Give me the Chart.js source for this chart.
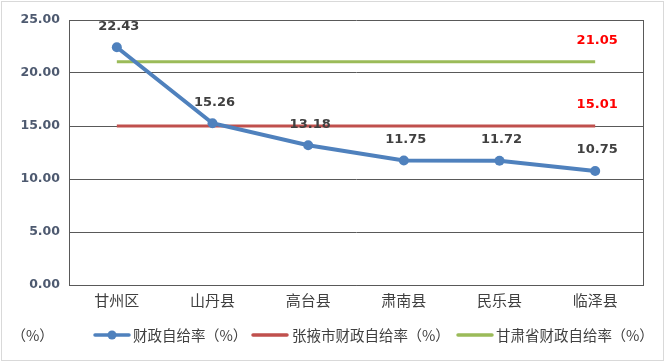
<!DOCTYPE html>
<html>
<head>
<meta charset="utf-8">
<script src="https://cdn.jsdelivr.net/npm/chart.js@4/dist/chart.umd.min.js"></script>
<style>
  html, body { margin: 0; padding: 0; background: #fff; }
  #wrap { width: 665px; height: 362px; position: relative; }
</style>
</head>
<body>
<div id="wrap"><canvas id="c" width="665" height="362"></canvas></div>
<script>
// data
const counties   = ['甘州区', '山丹县', '高台县', '肃南县', '民乐县', '临泽县'];
const countyRate = [22.43, 15.26, 13.18, 11.75, 11.72, 10.75];
const cityRate   = [15.01, 15.01, 15.01, 15.01, 15.01, 15.01];
const provRate   = [21.05, 21.05, 21.05, 21.05, 21.05, 21.05];
const yTicks     = [0, 5, 10, 15, 20, 25];

const seriesNames = ['财政自给率（%）', '张掖市财政自给率（%）', '甘肃省财政自给率（%）'];
const BLUE = '#4F81BD', RED = '#C0504D', GREEN = '#9BBB59';
const CJK = '"Noto Sans CJK SC", "Microsoft YaHei", sans-serif';

// draws CJK text char by char so full-width brackets keep a full cell
function drawWide(ctx, text, x, y, cell) {
  for (const ch of text) {
    const w = /[（）]/.test(ch) ? cell : ctx.measureText(ch).width;
    if (ch === '（') { ctx.textAlign = 'right'; ctx.fillText(ch, x + w, y); }
    else if (ch === '）') { ctx.textAlign = 'left'; ctx.fillText(ch, x, y); }
    else { ctx.textAlign = 'left'; ctx.fillText(ch, x, y); }
    x += w;
  }
}

// value labels, unit note, custom legend and outer frame
const decorations = {
  id: 'decorations',
  afterDatasetsDraw(chart) {
    const ctx = chart.ctx;
    ctx.save();
    ctx.textAlign = 'center';
    ctx.textBaseline = 'middle';
    ctx.font = 'bold 13px "DejaVu Sans", sans-serif';

    // blue series: every point
    chart.getDatasetMeta(0).data.forEach((pt, i) => {
      ctx.fillStyle = '#404040';
      ctx.fillText(countyRate[i].toFixed(2), pt.x + 2, pt.y - 21);
    });
    // reference lines: last point only, in red
    [1, 2].forEach(di => {
      const pts = chart.getDatasetMeta(di).data;
      const pt = pts[pts.length - 1];
      const v = chart.data.datasets[di].data[pts.length - 1];
      ctx.fillStyle = '#FF0000';
      ctx.fillText(v.toFixed(2), pt.x + 2, pt.y - 21);
    });
    ctx.restore();
  },
  afterDraw(chart) {
    const ctx = chart.ctx;
    ctx.save();
    // outer frame
    ctx.strokeStyle = '#D9D9D9';
    ctx.lineWidth = 1;
    ctx.strokeRect(1.5, 1.5, chart.width - 3, chart.height - 3);

    const y = 335;
    ctx.font = '14.5px ' + CJK;
    ctx.textBaseline = 'middle';
    ctx.fillStyle = '#404040';
    drawWide(ctx, '（%）', 14, y, 12);

    const items = [
      { x: 95,  tx: 133, color: BLUE,  dot: true },
      { x: 253, tx: 292, color: RED,   dot: false },
      { x: 458, tx: 496, color: GREEN, dot: false }
    ];
    items.forEach((it, i) => {
      ctx.strokeStyle = it.color;
      ctx.lineWidth = 3.5;
      ctx.lineCap = 'round';
      ctx.beginPath();
      ctx.moveTo(it.x, y);
      ctx.lineTo(it.x + 34, y);
      ctx.stroke();
      if (it.dot) {
        ctx.fillStyle = it.color;
        ctx.beginPath();
        ctx.arc(it.x + 17, y, 4.5, 0, Math.PI * 2);
        ctx.fill();
      }
      ctx.fillStyle = '#404040';
      drawWide(ctx, seriesNames[i], it.tx, y, 14);
    });
    ctx.restore();
  }
};

new Chart(document.getElementById('c').getContext('2d'), {
  type: 'line',
  data: {
    labels: counties,
    datasets: [
      {
        label: seriesNames[0],
        data: countyRate,
        borderColor: BLUE,
        backgroundColor: BLUE,
        borderWidth: 4,
        pointRadius: 5,
        pointHoverRadius: 5,
        pointBackgroundColor: BLUE,
        pointBorderWidth: 0,
        tension: 0,
        order: 1
      },
      {
        label: seriesNames[1],
        data: cityRate,
        borderColor: RED,
        borderWidth: 3,
        pointRadius: 0,
        order: 2
      },
      {
        label: seriesNames[2],
        data: provRate,
        borderColor: GREEN,
        borderWidth: 3,
        pointRadius: 0,
        order: 3
      }
    ]
  },
  options: {
    responsive: false,
    animation: false,
    layout: { padding: { top: 20, right: 22, left: 0, bottom: 0 } },
    plugins: { legend: { display: false }, tooltip: { enabled: false } },
    scales: {
      x: {
        offset: true,
        grid: { display: false, drawTicks: false },
        border: { display: true, color: '#595959', width: 1 },
        ticks: { color: '#404040', font: { size: 15, family: CJK }, padding: 6 },
        afterFit: s => { s.height = 77; }
      },
      y: {
        min: 0,
        max: 25,
        afterBuildTicks: s => { s.ticks = yTicks.map(v => ({ value: v })); },
        grid: { color: '#595959', lineWidth: 1, drawTicks: false },
        border: { display: true, color: '#595959', width: 1 },
        ticks: {
          color: '#4E5A70',
          font: { size: 12.5, weight: 'bold', family: '"DejaVu Sans", sans-serif' },
          padding: 9,
          callback: v => v.toFixed(2)
        },
        afterFit: s => { s.width = 69; }
      },
      y2: {
        position: 'right',
        min: 0,
        max: 25,
        grid: { display: false, drawTicks: false },
        border: { display: true, color: '#595959', width: 1 },
        ticks: { display: false },
        afterFit: s => { s.width = 0; }
      }
    }
  },
  plugins: [decorations]
});
</script>
</body>
</html>
